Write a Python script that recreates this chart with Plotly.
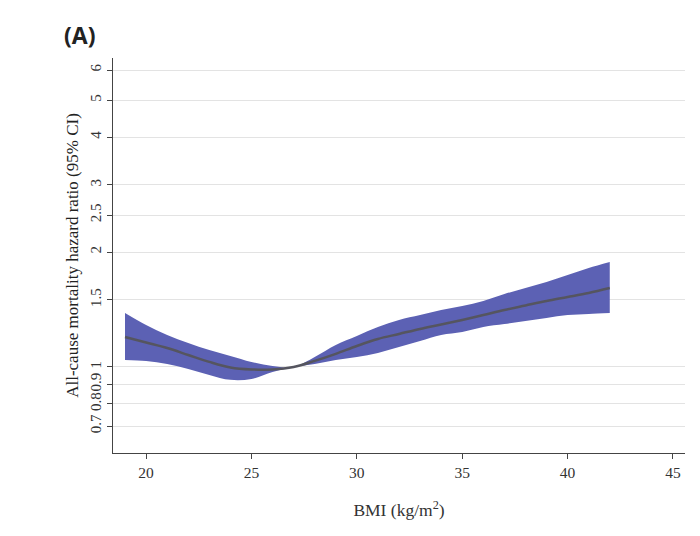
import plotly.graph_objects as go

bmi = [19, 20, 21, 22, 23, 24, 25, 26, 27, 28, 29, 30, 31, 32, 33, 34, 35, 36, 37, 38, 39, 40, 41, 42]
hr = [1.198, 1.159, 1.121, 1.075, 1.031, 0.997, 0.985, 0.985, 1.0, 1.037, 1.082, 1.135, 1.184, 1.220,
      1.258, 1.292, 1.328, 1.368, 1.410, 1.449, 1.489, 1.525, 1.563, 1.610]
upper = [1.385, 1.288, 1.213, 1.156, 1.108, 1.069, 1.031, 1.006, 1.0, 1.062, 1.142, 1.206, 1.273, 1.328,
         1.368, 1.410, 1.445, 1.489, 1.553, 1.610, 1.670, 1.742, 1.817, 1.884]
lower = [1.043, 1.037, 1.018, 0.988, 0.953, 0.925, 0.930, 0.970, 1.0, 1.018, 1.043, 1.062, 1.088, 1.128,
         1.170, 1.213, 1.235, 1.273, 1.296, 1.320, 1.344, 1.368, 1.377, 1.385]
ytick_vals = [0.7, 0.8, 0.9, 1, 1.5, 2, 2.5, 3, 4, 5, 6]
ytick_text = ["0.7", "0.8", "0.9", "1", "1.5", "2", "2.5", "3", "4", "5", "6"]
xtick_vals = [20, 25, 30, 35, 40, 45]

band_color = "rgb(92,97,180)"
line_color = "rgb(85,85,95)"
serif = "Liberation Serif"

fig = go.Figure()
fig.add_trace(go.Scatter(x=bmi, y=upper, mode="lines", line=dict(width=0, shape="spline"),
                         hoverinfo="skip", showlegend=False))
fig.add_trace(go.Scatter(x=bmi, y=lower, mode="lines", line=dict(width=0, shape="spline"),
                         fill="tonexty", fillcolor=band_color, hoverinfo="skip", showlegend=False))
fig.add_trace(go.Scatter(x=bmi, y=hr, mode="lines", line=dict(color=line_color, width=2.5, shape="spline"),
                         showlegend=False))

fig.update_layout(
    width=700, height=536,
    margin=dict(l=105, r=23, t=50, b=91, autoexpand=False),
    paper_bgcolor="white", plot_bgcolor="white",
    font=dict(family=serif, size=13, color="#333"),
    xaxis=dict(range=[18.43, 45.57], tickvals=xtick_vals, showgrid=False, zeroline=False,
               showline=True, linecolor="#444", linewidth=1.2, ticks="outside", ticklen=5,
               tickcolor="#444", tickfont=dict(family=serif, size=15.5, color="#333"),
               title=dict(text="BMI (kg/m<sup>2</sup>)", font=dict(family=serif, size=17.5, color="#333"),
                          standoff=24)),
    yaxis=dict(type="log", range=[-0.2255, 0.8096], tickvals=ytick_vals, ticktext=ytick_text,
               tickangle=-90, showgrid=True, gridcolor="#e3e3e3", gridwidth=1, zeroline=False,
               showline=True, linecolor="#444", linewidth=1.2, ticks="outside", ticklen=5,
               tickcolor="#444", tickfont=dict(family=serif, size=15, color="#333"),
               title=dict(text="All-cause mortality hazard ratio (95% CI)",
                          font=dict(family=serif, size=17, color="#222"), standoff=4)),
    annotations=[dict(text="<b>(A)</b>", x=-0.089, y=1.058, xref="paper", yref="paper",
                      xanchor="left", yanchor="middle", showarrow=False,
                      font=dict(family="Open Sans", size=23, color="#222"))],
)

fig.write_html("out.html")
